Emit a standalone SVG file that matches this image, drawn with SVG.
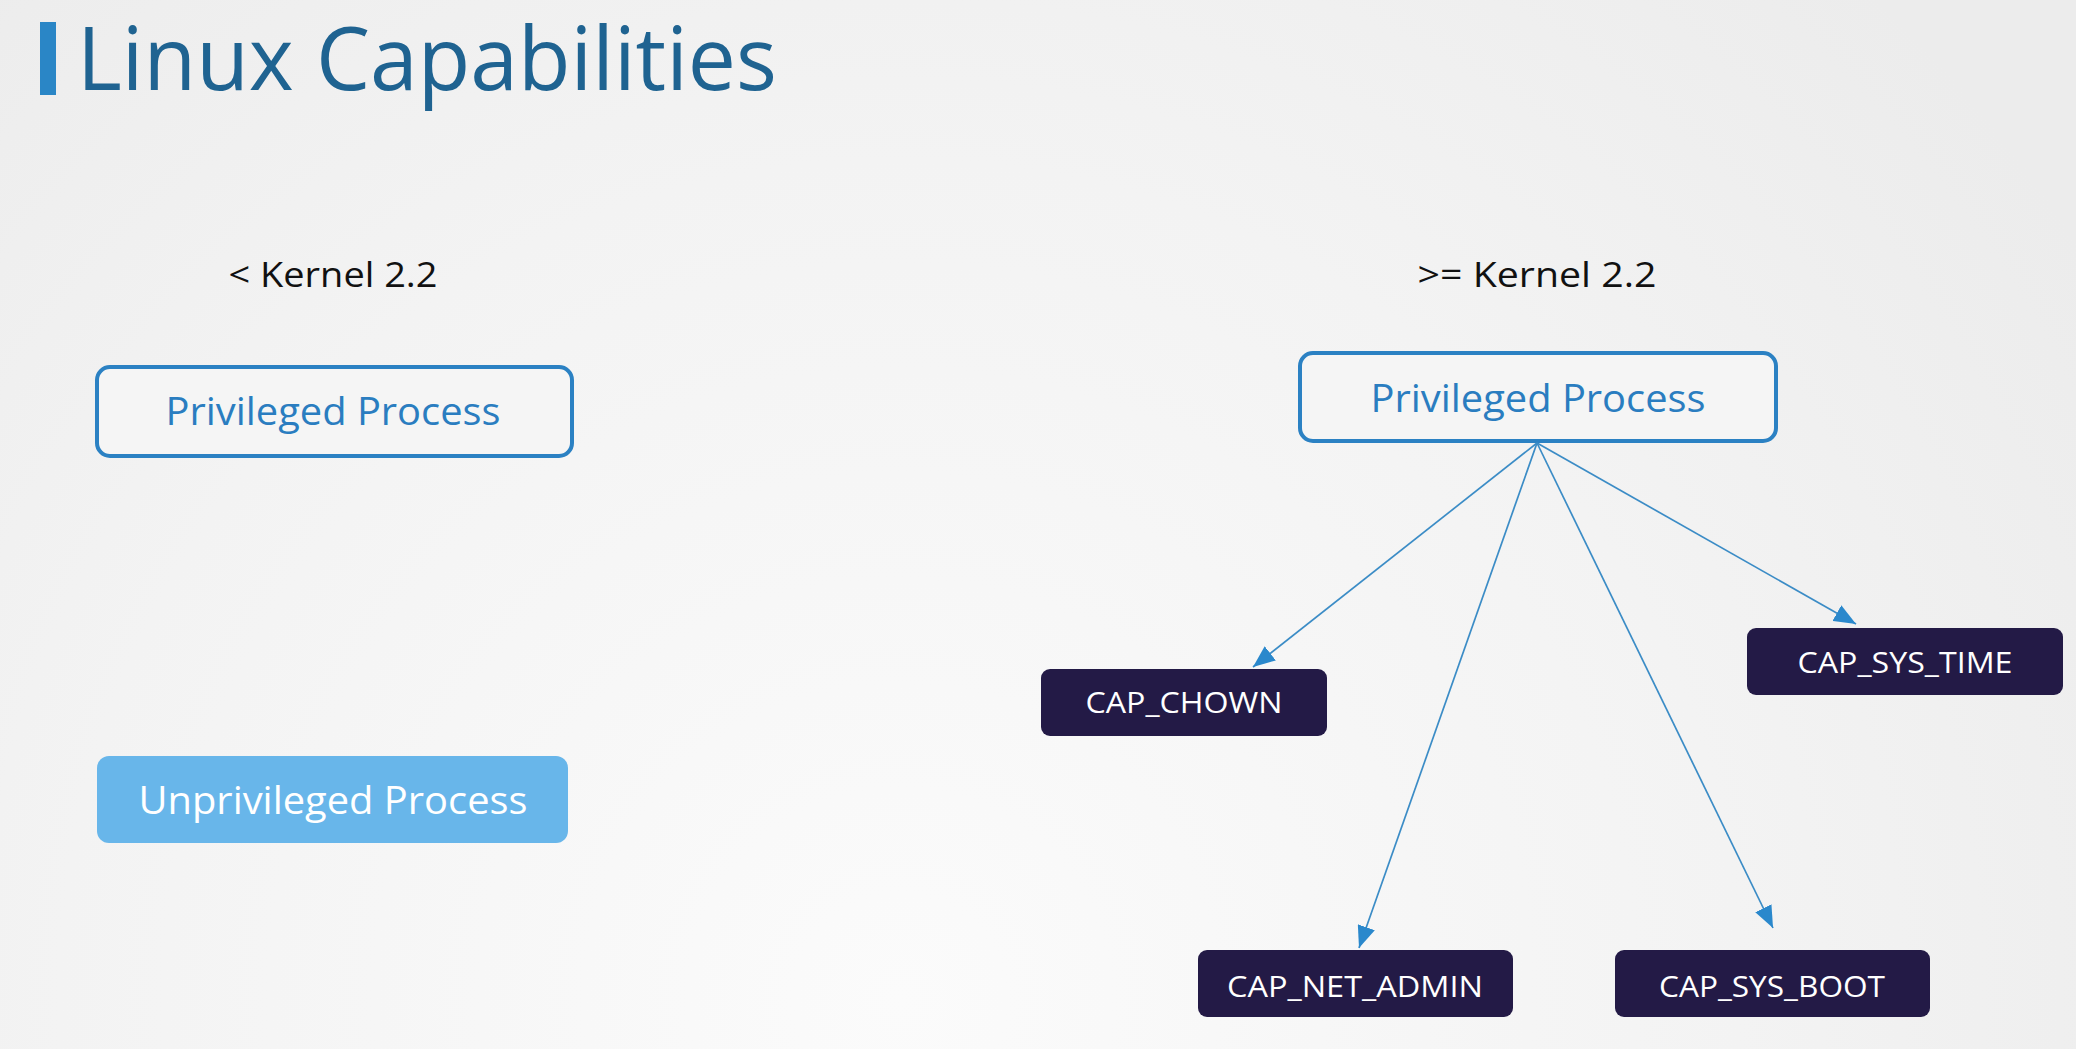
<svg xmlns="http://www.w3.org/2000/svg" width="2076" height="1049" viewBox="0 0 2076 1049">
  <defs>
    <radialGradient id="bg" cx="900" cy="1000" r="1400" gradientUnits="userSpaceOnUse">
      <stop offset="0" stop-color="#fbfbfb"/>
      <stop offset="0.6" stop-color="#f3f3f3"/>
      <stop offset="1" stop-color="#ececec"/>
    </radialGradient>
    <marker id="arrow" markerUnits="userSpaceOnUse" markerWidth="22" markerHeight="18" refX="22" refY="9" orient="auto">
      <path d="M0,0 L22,9 L0,18 z" fill="#2a88cc"/>
    </marker>
    <style>
      text { font-family: "Open Sans", "Noto Sans", "Liberation Sans", sans-serif; text-anchor: middle; }
      .title { font-size: 88px; fill: #1f6391; text-anchor: start; }
      .ver { font-size: 35px; fill: #111111; }
      .priv rect { fill: #f5f5f5; stroke: #2b81c3; stroke-width: 4; }
      .priv text { font-size: 39px; fill: #2a7dc0; }
      .unpriv rect { fill: #68b6ea; }
      .unpriv text { font-size: 39px; fill: #ffffff; }
      .cap rect { fill: #231a46; }
      .cap text { font-size: 30px; fill: #ffffff; }
      .edge { stroke: #3b8cc6; stroke-width: 1.7; fill: none; marker-end: url(#arrow); }
    </style>
  </defs>

  <rect width="2076" height="1049" fill="url(#bg)"/>

  <!-- heading -->
  <g id="heading">
    <rect x="40" y="22" width="16" height="73" fill="#2a86c6"/>
    <text class="title" x="77" y="90" textLength="700" lengthAdjust="spacingAndGlyphs">Linux Capabilities</text>
  </g>

  <!-- kernel version labels -->
  <g id="label-old">
    <text class="ver" x="333" y="287" textLength="209" lengthAdjust="spacingAndGlyphs">&lt; Kernel 2.2</text>
  </g>
  <g id="label-new">
    <text class="ver" x="1537" y="287" textLength="239" lengthAdjust="spacingAndGlyphs">&gt;= Kernel 2.2</text>
  </g>

  <!-- pre-2.2 model -->
  <g id="priv-old" class="priv">
    <rect x="97" y="367" width="475" height="89" rx="13"/>
    <text x="333" y="425" textLength="335" lengthAdjust="spacingAndGlyphs">Privileged Process</text>
  </g>
  <g id="unpriv-old" class="unpriv">
    <rect x="97" y="756" width="471" height="87" rx="12"/>
    <text x="333" y="814" textLength="389" lengthAdjust="spacingAndGlyphs">Unprivileged Process</text>
  </g>

  <!-- 2.2+ model -->
  <g id="priv-new" class="priv">
    <rect x="1300" y="353" width="476" height="88" rx="13"/>
    <text x="1538" y="412" textLength="335" lengthAdjust="spacingAndGlyphs">Privileged Process</text>
  </g>

  <g id="cap-chown" class="cap">
    <rect x="1041" y="669" width="286" height="67" rx="9"/>
    <text x="1184" y="713" textLength="197" lengthAdjust="spacingAndGlyphs">CAP_CHOWN</text>
  </g>
  <g id="cap-sys-time" class="cap">
    <rect x="1747" y="628" width="316" height="67" rx="9"/>
    <text x="1905" y="673" textLength="215" lengthAdjust="spacingAndGlyphs">CAP_SYS_TIME</text>
  </g>
  <g id="cap-net-admin" class="cap">
    <rect x="1198" y="950" width="315" height="67" rx="9"/>
    <text x="1355" y="997" textLength="256" lengthAdjust="spacingAndGlyphs">CAP_NET_ADMIN</text>
  </g>
  <g id="cap-sys-boot" class="cap">
    <rect x="1615" y="950" width="315" height="67" rx="9"/>
    <text x="1772" y="997" textLength="226" lengthAdjust="spacingAndGlyphs">CAP_SYS_BOOT</text>
  </g>

  <!-- capability links -->
  <g id="connectors">
    <line class="edge" x1="1537" y1="443" x2="1253" y2="667"/>
    <line class="edge" x1="1537" y1="443" x2="1856" y2="624"/>
    <line class="edge" x1="1537" y1="443" x2="1359" y2="948"/>
    <line class="edge" x1="1537" y1="443" x2="1773" y2="928"/>
  </g>
</svg>
